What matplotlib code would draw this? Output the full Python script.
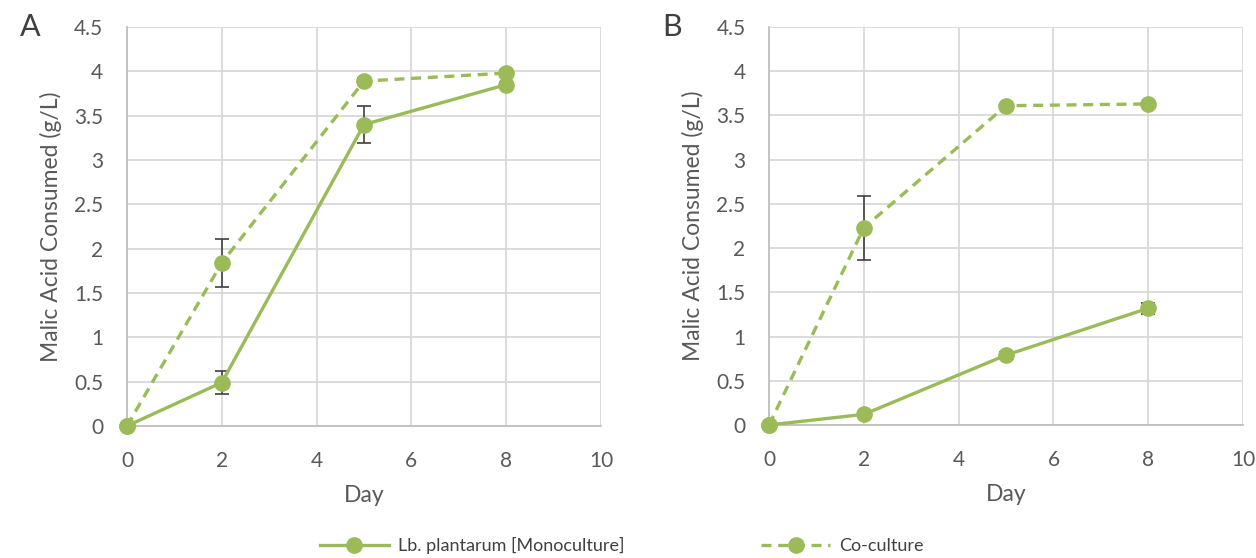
import numpy as np
import matplotlib.pyplot as plt

plt.rcParams['font.family'] = ['Lato', 'DejaVu Sans']

days = [0, 2, 5, 8]

# Panel A
mono_a = [0, 0.49, 3.40, 3.85]
mono_a_err = [0.02, 0.13, 0.21, 0.03]
co_a = [0, 1.84, 3.89, 3.98]
co_a_err = [0.02, 0.27, 0.03, 0.03]

# Panel B
mono_b = [0, 0.12, 0.79, 1.32]
mono_b_err = [0.01, 0.02, 0.03, 0.06]
co_b = [0, 2.23, 3.61, 3.63]
co_b_err = [0.01, 0.36, 0.02, 0.02]

green = '#9BBB59'
text_col = '#595959'
grid_col = '#D9D9D9'

fig = plt.figure(figsize=(12.56, 5.58), dpi=100)
ax_a = fig.add_axes([0.1011, 0.2366, 0.3774, 0.7150])
ax_b = fig.add_axes([0.6123, 0.2384, 0.3774, 0.7132])


def draw_panel(ax, mono, mono_err, co, co_err, letter):
    ax.errorbar(days, mono, yerr=mono_err, fmt='none', ecolor='#404040',
                elinewidth=1.2, capsize=5, capthick=1.2, zorder=2)
    ax.errorbar(days, co, yerr=co_err, fmt='none', ecolor='#404040',
                elinewidth=1.2, capsize=5, capthick=1.2, zorder=2)
    ax.plot(days, mono, '-o', color=green, lw=2.4, ms=11, zorder=3,
            clip_on=False, label='Lb. plantarum [Monoculture]')
    ax.plot(days, co, '--o', color=green, lw=2.4, ms=11, zorder=3,
            dashes=(3, 2), clip_on=False, label='Co-culture')
    ax.set_xlim(0, 10)
    ax.set_ylim(0, 4.5)
    ax.set_xticks(np.arange(0, 11, 2))
    ax.set_yticks(np.arange(0, 4.6, 0.5))
    ax.set_yticklabels(['0', '0.5', '1', '1.5', '2', '2.5', '3', '3.5', '4', '4.5'])
    ax.grid(True, color=grid_col, lw=1.3, zorder=0)
    ax.set_axisbelow(True)
    for s in ['top', 'right']:
        ax.spines[s].set_visible(False)
    for s in ['left', 'bottom']:
        ax.spines[s].set_color('#BFBFBF')
        ax.spines[s].set_linewidth(1.3)
    ax.tick_params(length=0, labelsize=15, labelcolor=text_col)
    ax.tick_params(axis='y', pad=17)
    ax.tick_params(axis='x', pad=18)
    ax.set_xlabel('Day', fontsize=16.5, color=text_col, labelpad=10)
    ax.set_ylabel('Malic Acid Consumed (g/L)', fontsize=16.5, color=text_col, labelpad=9)
    ax.text(-0.225, 1.0, letter, transform=ax.transAxes, fontsize=22,
            color='#404040', va='center', ha='left')


draw_panel(ax_a, mono_a, mono_a_err, co_a, co_a_err, 'A')
draw_panel(ax_b, mono_b, mono_b_err, co_b, co_b_err, 'B')

handles, labels = ax_a.get_legend_handles_labels()
fig.legend(handles, labels, loc='center', bbox_to_anchor=(0.495, 0.022),
           ncol=2, frameon=False, fontsize=13, labelcolor='#404040',
           handlelength=3.8, columnspacing=7.6, handletextpad=0.5,
           borderpad=0.2)

fig.savefig('out.png', dpi=100)
